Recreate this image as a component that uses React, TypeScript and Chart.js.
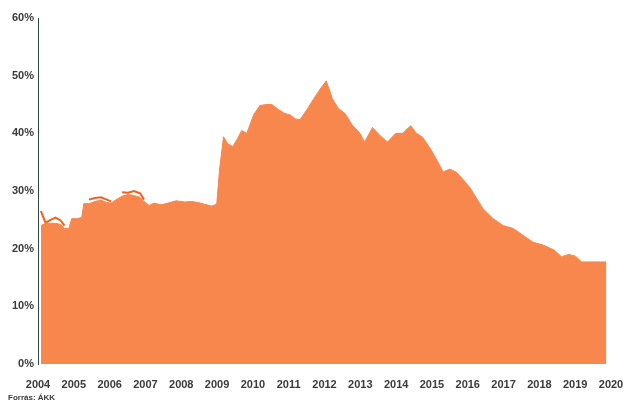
import React, { useEffect, useRef } from "react";
import { Chart, registerables } from "chart.js";

Chart.register(...registerables);

// Decimal-year dates and share values (%)
const areaDates = [
  2004.08, 2004.21, 2004.35, 2004.49, 2004.63, 2004.74, 2004.86, 2004.94, 2005.08, 2005.22,
  2005.28, 2005.42, 2005.59, 2005.76, 2005.92, 2006.04, 2006.18, 2006.35, 2006.51, 2006.68,
  2006.85, 2006.96, 2007.1, 2007.24, 2007.44, 2007.63, 2007.86, 2008.09, 2008.28, 2008.48,
  2008.65, 2008.85, 2008.99, 2009.07, 2009.18, 2009.3, 2009.44, 2009.57, 2009.69, 2009.83,
  2010.02, 2010.19, 2010.36, 2010.53, 2010.7, 2010.87, 2011.04, 2011.18, 2011.32, 2011.52,
  2011.71, 2011.88, 2012.05, 2012.22, 2012.39, 2012.58, 2012.78, 2012.98, 2013.12, 2013.34,
  2013.57, 2013.76, 2013.99, 2014.18, 2014.24, 2014.41, 2014.55, 2014.74, 2014.97, 2015.17,
  2015.31, 2015.5, 2015.67, 2015.87, 2016.07, 2016.24, 2016.43, 2016.71, 2016.99, 2017.27,
  2017.55, 2017.83, 2018.12, 2018.4, 2018.62, 2018.82, 2019.01, 2019.18, 2019.52, 2019.87,
];
const areaValues = [
  24.0, 24.4, 24.4, 24.4, 24.2, 23.5, 23.5, 25.2, 25.2, 25.4,
  27.8, 27.8, 28.2, 28.4, 28.0, 27.9, 28.5, 29.1, 29.4, 29.2,
  28.9, 28.2, 27.5, 27.9, 27.6, 27.9, 28.3, 28.1, 28.2, 28.0,
  27.7, 27.4, 27.7, 33.8, 39.4, 38.2, 37.7, 39.1, 40.5, 40.0,
  43.2, 44.8, 45.0, 45.0, 44.2, 43.5, 43.2, 42.5, 42.4, 44.2,
  46.1, 47.7, 49.1, 46.0, 44.3, 43.4, 41.4, 40.1, 38.5, 41.0,
  39.5, 38.5, 40.0, 40.0, 40.4, 41.3, 40.1, 39.3, 37.2, 35.0,
  33.3, 33.8, 33.3, 32.0, 30.5, 28.8, 26.9, 25.2, 24.0, 23.5,
  22.3, 21.1, 20.6, 19.8, 18.6, 19.0, 18.7, 17.7, 17.7, 17.7,
];

// Visible part of the second (line) series, 2004-2007
const lineDates = [
  2004.08, 2004.21, 2004.35, 2004.49, 2004.63, 2004.74, null,
  2005.42, 2005.59, 2005.76, 2005.92, 2006.04, null,
  2006.35, 2006.51, 2006.68, 2006.85, 2006.96,
];
const lineValues = [
  26.5, 24.5, 25.0, 25.4, 24.9, 24.0, null,
  28.5, 28.8, 28.9, 28.5, 28.2, null,
  29.8, 29.7, 30.0, 29.6, 28.5,
];

const yTicks = [0, 10, 20, 30, 40, 50, 60];
const xTicks = [2004, 2005, 2006, 2007, 2008, 2009, 2010, 2011, 2012, 2013, 2014, 2015, 2016, 2017, 2018, 2019, 2020];
const sourceText = "Forrás: ÁKK";

const FONT = "'Liberation Sans', Arial, sans-serif";
const TEXT = "#3a3a3a";

const sourcePlugin = {
  id: "sourceNote",
  afterDraw(chart: any) {
    const ctx = chart.ctx;
    ctx.save();
    ctx.fillStyle = TEXT;
    ctx.font = "bold 8px " + FONT;
    ctx.textAlign = "left";
    ctx.textBaseline = "middle";
    ctx.fillText(sourceText, 8, 398);
    ctx.restore();
  },
};

export default function App() {
  const ref = useRef<HTMLCanvasElement | null>(null);

  useEffect(() => {
    document.body.style.margin = "0";
    const canvas = ref.current;
    if (!canvas) return;
    const area = areaDates.map((d, i) => ({ x: d, y: areaValues[i] }));
    const line = lineDates.map((d, i) => ({ x: d as number, y: lineValues[i] as number }));
    const chart = new Chart(canvas, {
      type: "line",
      data: {
        datasets: [
          {
            label: "area",
            data: area,
            borderColor: "#f8874d",
            backgroundColor: "#f8874d",
            borderWidth: 1,
            pointRadius: 0,
            fill: "origin",
            tension: 0,
            order: 0,
          },
          {
            label: "line",
            data: line,
            borderColor: "#f2601f",
            borderWidth: 2,
            pointRadius: 0,
            fill: false,
            spanGaps: false,
            tension: 0,
            order: 1,
          },
        ],
      },
      plugins: [sourcePlugin],
      options: {
        animation: false,
        responsive: false,
        parsing: false,
        layout: { padding: { left: 8, right: 3, top: 18, bottom: 0 } },
        plugins: {
          legend: { display: false },
          tooltip: { enabled: false },
          title: { display: false },
        },
        scales: {
          x: {
            type: "linear",
            min: 2004,
            max: 2020,
            afterBuildTicks: (scale: any) => {
              scale.ticks = xTicks.map((v) => ({ value: v }));
            },
            afterFit: (scale: any) => {
              scale.height = 41;
              scale.paddingRight = 13;
              scale.paddingLeft = 0;
            },
            grid: { display: false, drawTicks: false },
            border: { display: false },
            ticks: {
              color: TEXT,
              font: { family: FONT, size: 11, weight: "bold" },
              padding: 14,
              maxRotation: 0,
              autoSkip: false,
              callback: (v: any) => String(v),
            },
          },
          y: {
            min: 0,
            max: 60,
            afterBuildTicks: (scale: any) => {
              scale.ticks = yTicks.map((v) => ({ value: v }));
            },
            afterFit: (scale: any) => {
              scale.width = 30;
            },
            grid: { display: false, drawTicks: false },
            border: { display: true, color: "#2f4a45", width: 1 },
            ticks: {
              color: TEXT,
              font: { family: FONT, size: 11, weight: "bold" },
              padding: 4,
              callback: (v: any) => v + "%",
            },
          },
        },
      },
    });
    return () => chart.destroy();
  }, []);

  return (
    <div style={{ width: 624, height: 405, background: "#fff" }}>
      <canvas ref={ref} width={624} height={405} />
    </div>
  );
}
